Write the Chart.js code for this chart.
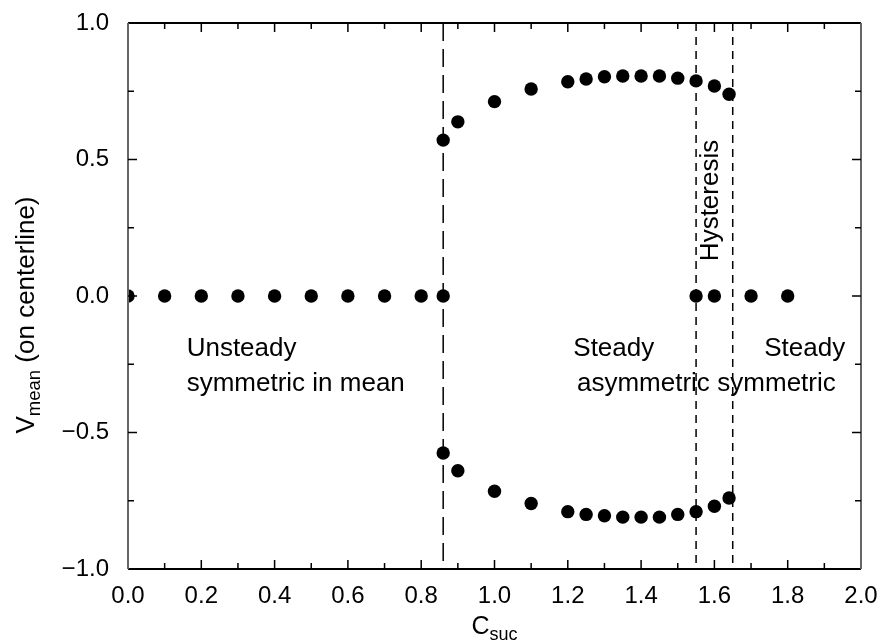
<!DOCTYPE html>
<html>
<head>
<meta charset="utf-8">
<script src="https://cdn.jsdelivr.net/npm/chart.js@4"></script>
<style>
html, body { margin: 0; padding: 0; background: #fff; }
#wrap { width: 881px; height: 643px; }
</style>
</head>
<body>
<div id="wrap"><canvas id="myChart"></canvas></div>
<script>
// points sitting on the centerline (V = 0)
const zeroC = [0, 0.1, 0.2, 0.3, 0.4, 0.5, 0.6, 0.7, 0.8, 0.86, 1.55, 1.6, 1.7, 1.8];
const zeroV = [0, 0, 0, 0, 0, 0, 0, 0, 0, 0, 0, 0, 0, 0];

// asymmetric branches
const branchC = [0.86, 0.9, 1.0, 1.1, 1.2, 1.25, 1.3, 1.35, 1.4, 1.45, 1.5, 1.55, 1.6, 1.64];
const upperV = [0.571, 0.638, 0.712, 0.758, 0.785, 0.795, 0.803, 0.806, 0.806, 0.806, 0.798, 0.788, 0.769, 0.739];
const lowerV = [-0.575, -0.64, -0.715, -0.76, -0.79, -0.80, -0.805, -0.81, -0.81, -0.81, -0.80, -0.79, -0.77, -0.74];

const xTicks = [0, 0.2, 0.4, 0.6, 0.8, 1.0, 1.2, 1.4, 1.6, 1.8, 2.0];
const xTickLabels = ['0.0', '0.2', '0.4', '0.6', '0.8', '1.0', '1.2', '1.4', '1.6', '1.8', '2.0'];
const xMinor = [0.1, 0.3, 0.5, 0.7, 0.9, 1.1, 1.3, 1.5, 1.7, 1.9];
const yTicks = [-1, -0.5, 0, 0.5, 1];
const yTickLabels = ['\u22121.0', '\u22120.5', '0.0', '0.5', '1.0'];
const yMinor = [-0.75, -0.25, 0.25, 0.75];

// regime boundaries (dashed lines)
const boundaries = [0.86, 1.55, 1.65];

const FONT = "'Liberation Sans', Arial, Helvetica, sans-serif";

const notes = [
    { text: 'Unsteady', c: 0.16, v: -0.195 },
    { text: 'symmetric in mean', c: 0.16, v: -0.32 },
    { text: 'Steady', c: 1.215, v: -0.195 },
    { text: 'asymmetric', c: 1.225, v: -0.32 },
    { text: 'Steady', c: 1.736, v: -0.195 },
    { text: 'symmetric', c: 1.608, v: -0.32 }
];

function toPoints(xs, ys) {
    return xs.map((x, i) => ({ x: x, y: ys[i] }));
}

function noPad(s) {
    s.paddingTop = 0;
    s.paddingBottom = 0;
    s.paddingLeft = 0;
    s.paddingRight = 0;
}

const dashLines = {
    id: 'dashLines',
    beforeDatasetsDraw(chart) {
        const ctx = chart.ctx, a = chart.chartArea, xs = chart.scales.x;
        ctx.save();
        ctx.strokeStyle = '#000';
        ctx.lineWidth = 1.5;
        boundaries.forEach((b, i) => {
            const px = xs.getPixelForValue(b);
            ctx.setLineDash(i === 0 ? [18, 8] : [8, 6]);
            ctx.beginPath();
            ctx.moveTo(px, a.top);
            ctx.lineTo(px, a.bottom);
            ctx.stroke();
        });
        ctx.restore();
    }
};

const frameAndText = {
    id: 'frameAndText',
    afterDraw(chart) {
        const ctx = chart.ctx, a = chart.chartArea;
        const xs = chart.scales.x, ys = chart.scales.y;
        ctx.save();
        // frame
        ctx.lineWidth = 2;
        ctx.strokeStyle = '#000';
        ctx.beginPath();
        ctx.moveTo(a.left, a.top); ctx.lineTo(a.right, a.top);
        ctx.moveTo(a.left, a.bottom); ctx.lineTo(a.right, a.bottom);
        ctx.stroke();
        ctx.strokeStyle = '#666';
        ctx.beginPath();
        ctx.moveTo(a.left, a.top); ctx.lineTo(a.left, a.bottom);
        ctx.moveTo(a.right, a.top); ctx.lineTo(a.right, a.bottom);
        ctx.stroke();

        // inward ticks on all four sides
        ctx.strokeStyle = '#000';
        ctx.lineWidth = 1.5;
        ctx.beginPath();
        const xt = (v, len) => {
            const p = xs.getPixelForValue(v);
            ctx.moveTo(p, a.bottom); ctx.lineTo(p, a.bottom - len);
            ctx.moveTo(p, a.top); ctx.lineTo(p, a.top + len);
        };
        const yt = (v, len) => {
            const p = ys.getPixelForValue(v);
            ctx.moveTo(a.left, p); ctx.lineTo(a.left + len, p);
            ctx.moveTo(a.right, p); ctx.lineTo(a.right - len, p);
        };
        xTicks.slice(1, -1).forEach(v => xt(v, 9));
        xMinor.forEach(v => xt(v, 6));
        yTicks.slice(1, -1).forEach(v => yt(v, 9));
        yMinor.forEach(v => yt(v, 6));
        ctx.stroke();

        // annotations
        ctx.fillStyle = '#000';
        ctx.font = '26px ' + FONT;
        ctx.textAlign = 'left';
        ctx.textBaseline = 'middle';
        notes.forEach(n => {
            ctx.fillText(n.text, xs.getPixelForValue(n.c), ys.getPixelForValue(n.v));
        });
        ctx.save();
        ctx.translate(xs.getPixelForValue(1.589), ys.getPixelForValue(0.35));
        ctx.rotate(-Math.PI / 2);
        ctx.textAlign = 'center';
        ctx.fillText('Hysteresis', 0, 0);
        ctx.restore();

        // x title: C_suc
        ctx.textBaseline = 'alphabetic';
        ctx.textAlign = 'left';
        const cx = (a.left + a.right) / 2;
        ctx.font = '25px ' + FONT;
        const wC = ctx.measureText('C').width;
        ctx.font = '18px ' + FONT;
        const wS = ctx.measureText('suc').width;
        const x0 = cx - (wC + wS) / 2;
        ctx.font = '25px ' + FONT;
        ctx.fillText('C', x0, 634);
        ctx.font = '18px ' + FONT;
        ctx.fillText('suc', x0 + wC, 640);

        // y title: V_mean (on centerline)
        ctx.save();
        ctx.translate(34, 315);
        ctx.rotate(-Math.PI / 2);
        ctx.font = '26px ' + FONT;
        const wV = ctx.measureText('V').width;
        const wRest = ctx.measureText(' (on centerline)').width;
        ctx.font = '18.5px ' + FONT;
        const wM = ctx.measureText('mean').width;
        const s = -(wV + wM + wRest) / 2;
        ctx.font = '26px ' + FONT;
        ctx.fillText('V', s, 0);
        ctx.font = '18.5px ' + FONT;
        ctx.fillText('mean', s + wV, 6);
        ctx.font = '26px ' + FONT;
        ctx.fillText(' (on centerline)', s + wV + wM, 0);
        ctx.restore();

        ctx.restore();
    }
};

const ctx = document.getElementById('myChart');

new Chart(ctx, {
    type: 'scatter',
    data: {
        datasets: [
            { label: 'symmetric', data: toPoints(zeroC, zeroV) },
            { label: 'upper', data: toPoints(branchC, upperV) },
            { label: 'lower', data: toPoints(branchC, lowerV) }
        ]
    },
    options: {
        responsive: true,
        maintainAspectRatio: false,
        animation: false,
        layout: { padding: { left: 0, right: 20, top: 23, bottom: 0 } },
        elements: {
            point: { radius: 6.7, backgroundColor: '#000', borderColor: '#000', borderWidth: 0, hoverRadius: 6.7 }
        },
        plugins: {
            legend: { display: false },
            tooltip: { enabled: false }
        },
        scales: {
            x: {
                type: 'linear',
                min: 0,
                max: 2,
                grid: { display: false },
                border: { display: false },
                afterFit: s => { s.height = 74; noPad(s); },
                afterBuildTicks: s => { s.ticks = xTicks.map(v => ({ value: v })); },
                ticks: {
                    color: '#000',
                    padding: 5,
                    maxRotation: 0,
                    autoSkip: false,
                    font: { family: FONT, size: 24 },
                    callback: (v, i) => xTickLabels[i]
                }
            },
            y: {
                type: 'linear',
                min: -1,
                max: 1,
                grid: { display: false },
                border: { display: false },
                afterFit: s => { s.width = 128; noPad(s); },
                afterBuildTicks: s => { s.ticks = yTicks.map(v => ({ value: v })); },
                ticks: {
                    color: '#000',
                    padding: 11,
                    autoSkip: false,
                    font: { family: FONT, size: 24 },
                    callback: (v, i) => yTickLabels[i]
                }
            }
        }
    },
    plugins: [dashLines, frameAndText]
});
</script>
</body>
</html>
